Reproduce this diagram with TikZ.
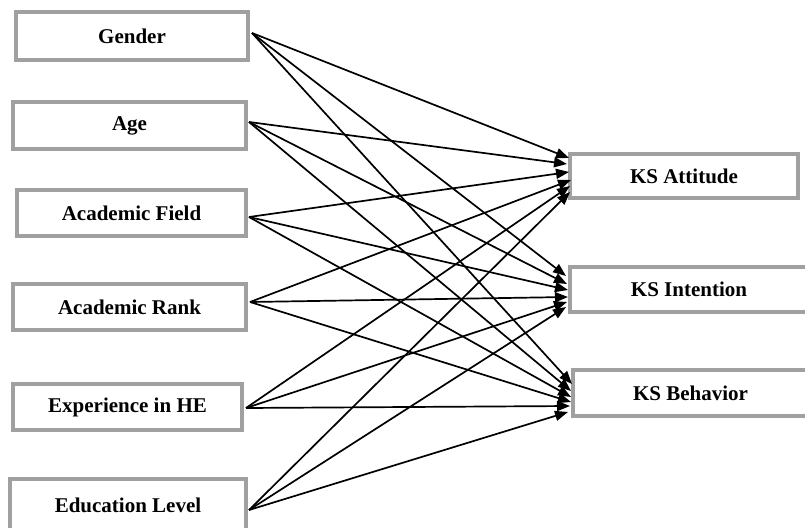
\documentclass[tikz,border=0pt]{standalone}
\usepackage{fontspec}
\setmainfont{Liberation Serif}
\usetikzlibrary{arrows.meta}
\definecolor{boxgray}{RGB}{160,160,160}
\begin{document}
\begin{tikzpicture}[x=1pt,y=-1pt,
  varbox/.style={draw=boxgray, line width=3.8pt, fill=white, inner sep=0pt,
    font=\fontsize{21}{25}\selectfont\bfseries},
  link/.style={line width=1.7pt, -{Triangle[length=13pt,width=10pt]}}]
\useasboundingbox (0,0) rectangle (805,527);
\clip (0,0) rectangle (805,527);
\fill[white] (0,0) rectangle (805,527);

\node[varbox, minimum width=232pt, minimum height=48pt] (gen) at (132,36) {Gender};
\node[varbox, minimum width=233pt, minimum height=47pt] (age) at (129.5,125.5) {Age};
\node[varbox, minimum width=229pt, minimum height=46pt] (fld) at (131.5,213) {Academic Field};
\node[varbox, minimum width=233pt, minimum height=46pt] (rnk) at (129.5,307) {Academic Rank};
\node[varbox, minimum width=229pt, minimum height=46pt] (exp) at (127.5,407) {Experience in HE};
\node[varbox, minimum width=236pt, minimum height=52pt] (edu) at (128,505) {Education Level};

\node[varbox, minimum width=228pt, minimum height=44pt] (att) at (684,176) {KS Attitude};
\node[varbox, minimum width=238pt, minimum height=45pt] (int) at (689,289.5) {KS Intention};
\node[varbox, minimum width=235pt, minimum height=46pt] (beh) at (690.5,393) {KS Behavior};

% start points
\coordinate (gS) at (252,33);
\coordinate (aS) at (249,122);
\coordinate (fS) at (249,217);
\coordinate (rS) at (250,302);
\coordinate (xS) at (246,408);
\coordinate (eS) at (249,510);

% end points on KS Attitude
\coordinate (att1) at (569,158);
\coordinate (att2) at (567,164);
\coordinate (att3) at (569,172);
\coordinate (att4) at (571,180);
\coordinate (att5) at (570,186);
\coordinate (att6) at (570,192);
% end points on KS Intention
\coordinate (int1) at (566,276);
\coordinate (int2) at (567,284);
\coordinate (int3) at (568,290);
\coordinate (int4) at (568,297);
\coordinate (int5) at (567,302);
\coordinate (int6) at (566,307);
% end points on KS Behavior
\coordinate (beh1) at (572,384);
\coordinate (beh2) at (571,391);
\coordinate (beh3) at (571,397);
\coordinate (beh4) at (571,402);
\coordinate (beh5) at (570,406);
\coordinate (beh6) at (568,412);

\draw[link] (gS) -- (att1);
\draw[link] (gS) -- (int1);
\draw[link] (gS) -- (beh1);
\draw[link] (aS) -- (att2);
\draw[link] (aS) -- (int2);
\draw[link] (aS) -- (beh2);
\draw[link] (fS) -- (att3);
\draw[link] (fS) -- (int3);
\draw[link] (fS) -- (beh3);
\draw[link] (rS) -- (att4);
\draw[link] (rS) -- (int4);
\draw[link] (rS) -- (beh4);
\draw[link] (xS) -- (att5);
\draw[link] (xS) -- (int5);
\draw[link] (xS) -- (beh5);
\draw[link] (eS) -- (att6);
\draw[link] (eS) -- (int6);
\draw[link] (eS) -- (beh6);
\end{tikzpicture}
\end{document}
